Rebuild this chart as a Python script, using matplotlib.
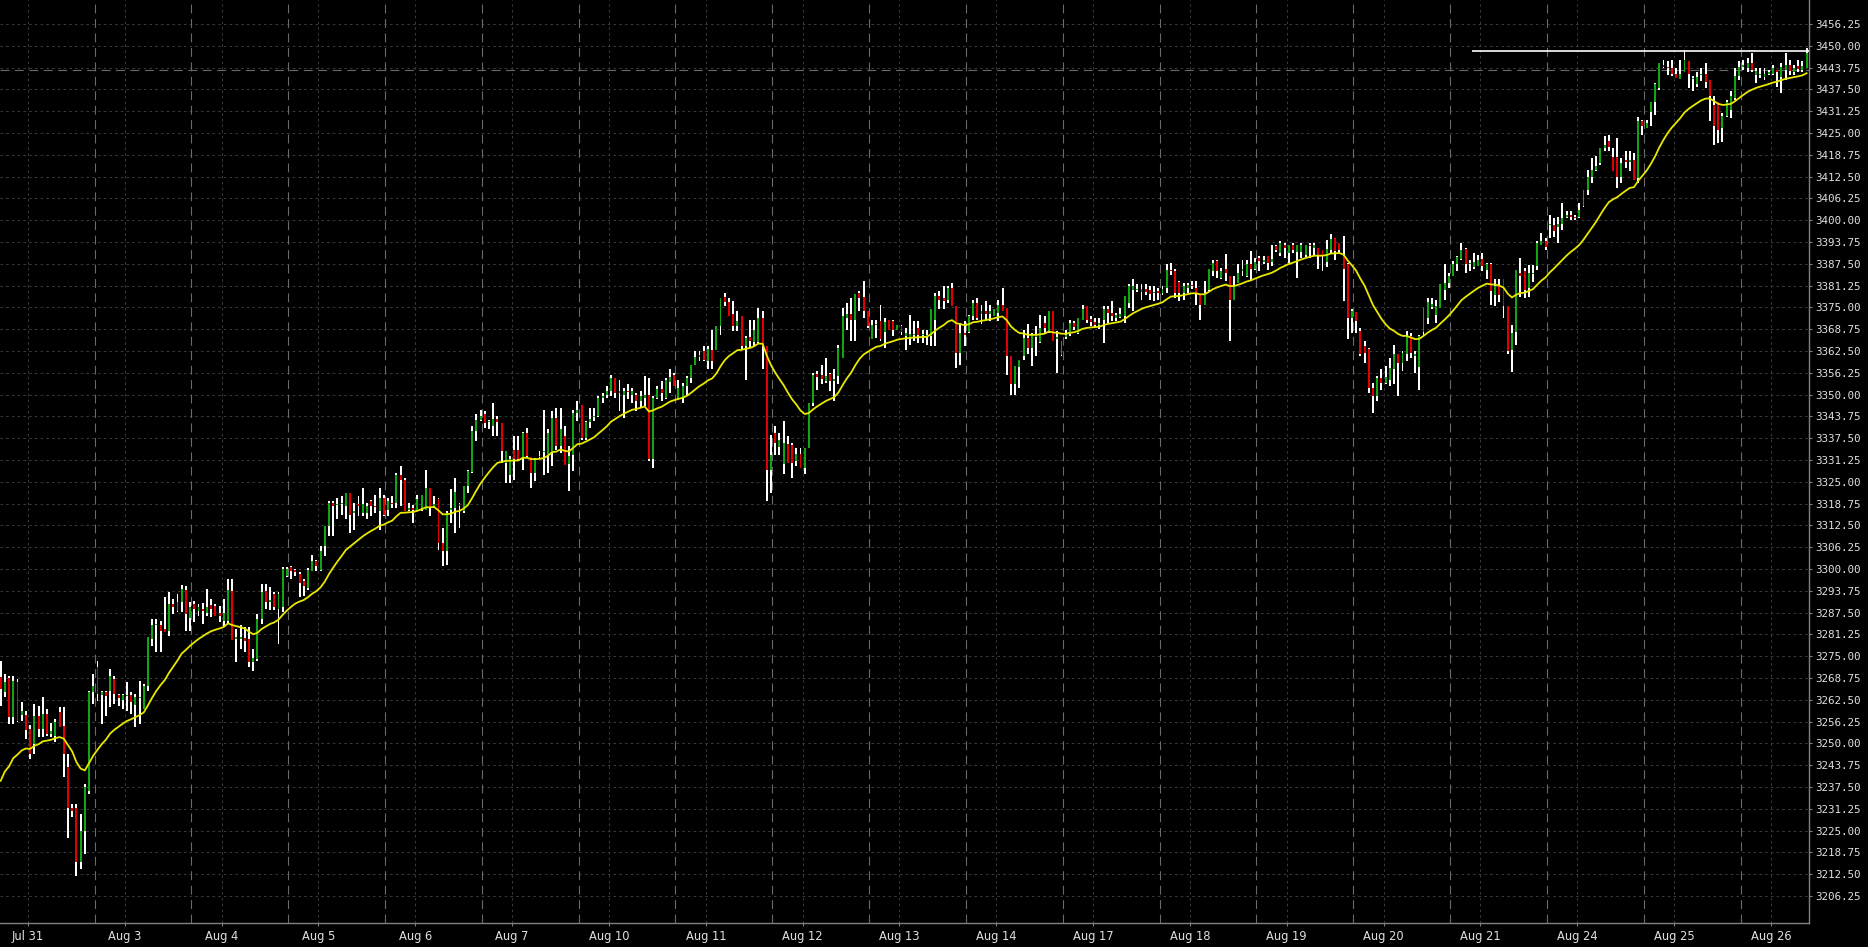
import matplotlib
matplotlib.use("Agg")
import matplotlib.pyplot as plt
import numpy as np
import pandas as pd

# hourly bars, Jul 31 - Aug 26 (23 bars per session)
opens = [
    3269.0, 3264.6, 3268.7, 3257.5, 3267.5, 3258.0, 3258.0, 3254.1, 3249.8, 3257.9,
    3254.1, 3258.4, 3252.7, 3252.2, 3258.9, 3255.1, 3243.1, 3231.6, 3231.6, 3215.9,
    3225.0, 3236.4, 3264.6, 3272.0, 3263.8, 3264.6, 3265.1, 3268.4, 3264.0, 3262.5,
    3263.5, 3264.0, 3261.0, 3262.9, 3260.0, 3266.5, 3279.9, 3283.8, 3283.8, 3282.8,
    3282.3, 3290.0, 3288.0, 3290.4, 3294.0, 3286.0, 3290.0, 3288.0, 3288.5, 3287.5,
    3289.7, 3289.5, 3287.5, 3285.0, 3285.0, 3293.8, 3280.0, 3280.0, 3280.2, 3280.0,
    3273.2, 3274.2, 3285.7, 3293.8, 3290.4, 3292.8, 3288.5, 3289.0, 3298.0, 3300.5,
    3299.7, 3298.5, 3296.5, 3294.6, 3299.3, 3302.2, 3299.8, 3306.5, 3312.2, 3318.9,
    3318.3, 3318.5, 3318.0, 3321.8, 3316.0, 3318.5, 3316.0, 3316.0, 3319.5, 3318.2,
    3316.5, 3320.3, 3317.0, 3319.0, 3318.9, 3327.0, 3325.6, 3317.0, 3317.5, 3317.0,
    3317.5, 3317.0, 3323.2, 3318.0, 3320.0, 3307.5, 3305.1, 3317.0, 3317.5, 3318.0,
    3316.5, 3323.7, 3327.8, 3339.5, 3342.8, 3344.3, 3342.0, 3341.0, 3343.0, 3341.9,
    3330.5, 3327.0, 3334.0, 3334.2, 3331.8, 3339.0, 3332.0, 3327.5, 3332.0, 3333.5,
    3332.3, 3333.2, 3343.3, 3335.2, 3338.0, 3330.0, 3332.8, 3344.7, 3347.0, 3337.5,
    3342.0, 3343.5, 3343.9, 3349.0, 3350.0, 3350.9, 3354.8, 3350.5, 3350.0, 3351.0,
    3350.0, 3350.0, 3348.1, 3349.0, 3350.0, 3331.4, 3349.0, 3351.5, 3349.0, 3353.5,
    3355.5, 3349.0, 3349.0, 3352.4, 3354.8, 3358.6, 3360.9, 3362.4, 3359.5, 3362.8,
    3362.9, 3369.6, 3378.0, 3376.5, 3373.0, 3369.6, 3372.5, 3363.8, 3366.5, 3365.0,
    3365.0, 3372.0, 3363.9, 3328.5, 3339.0, 3335.0, 3330.0, 3335.7, 3335.5, 3331.0,
    3333.0, 3329.0, 3334.7, 3347.6, 3356.0, 3355.5, 3353.8, 3356.0, 3354.0, 3355.2,
    3360.5, 3372.0, 3373.0, 3371.5, 3379.0, 3378.0, 3373.9, 3366.0, 3370.0, 3371.0,
    3368.0, 3371.5, 3371.0, 3368.6, 3369.8, 3366.9, 3366.5, 3367.0, 3369.0, 3367.0,
    3366.5, 3366.7, 3371.5, 3378.2, 3377.7, 3377.0, 3380.6, 3375.3, 3362.0, 3367.7,
    3368.0, 3372.5, 3376.3, 3373.0, 3374.0, 3373.0, 3372.5, 3373.4, 3375.8, 3374.9,
    3361.0, 3352.9, 3358.0, 3361.0, 3366.2, 3363.5, 3366.5, 3365.0, 3370.5, 3368.1,
    3373.9, 3366.0, 3361.4, 3366.5, 3367.3, 3370.5, 3367.7, 3371.5, 3375.3, 3371.8,
    3370.8, 3370.0, 3371.5, 3374.4, 3373.4, 3372.0, 3372.3, 3372.5, 3376.3, 3380.0,
    3380.0, 3379.5, 3380.4, 3380.0, 3379.0, 3379.6, 3379.0, 3380.6, 3385.8, 3385.4,
    3382.3, 3379.0, 3380.5, 3381.4, 3380.5, 3378.7, 3375.8, 3380.0, 3385.4, 3388.3,
    3383.5, 3386.0, 3383.9, 3377.2, 3382.0, 3385.5, 3384.0, 3387.3, 3386.0, 3389.2,
    3388.0, 3389.7, 3388.0, 3392.5, 3390.5, 3392.9, 3390.5, 3393.0, 3391.0, 3391.0,
    3390.0, 3393.0, 3392.0, 3392.0, 3391.5, 3388.0, 3391.5, 3394.9, 3393.5, 3389.7,
    3387.3, 3372.0, 3373.8, 3368.2, 3364.0, 3363.0, 3351.9, 3349.5, 3354.8, 3353.3,
    3354.3, 3357.2, 3361.5, 3359.2, 3361.5, 3366.7, 3361.0, 3358.0, 3368.0, 3372.0,
    3375.0, 3372.8, 3374.9, 3380.0, 3382.0, 3384.0, 3387.5, 3389.0, 3391.6, 3387.3,
    3386.5, 3387.0, 3389.0, 3385.8, 3387.3, 3378.5, 3381.0, 3383.0, 3375.3, 3362.8,
    3368.0, 3385.0, 3385.3, 3380.5, 3384.5, 3387.0, 3393.0, 3394.0, 3398.5, 3398.5,
    3398.0, 3399.0, 3401.0, 3401.5, 3401.0, 3401.0, 3404.0, 3408.7, 3412.5, 3414.5,
    3416.4, 3420.6, 3422.8, 3418.0, 3418.2, 3412.5, 3417.2, 3416.8, 3417.3, 3412.0,
    3428.3, 3426.5, 3431.0, 3434.0, 3438.0, 3444.5, 3444.0, 3443.5, 3442.0, 3440.5,
    3442.6, 3445.5, 3440.5, 3439.0, 3441.5, 3442.0, 3440.2, 3433.0, 3434.0, 3426.5,
    3430.0, 3431.5, 3435.0, 3441.2, 3444.0, 3443.5, 3445.0, 3441.5, 3441.5, 3441.0,
    3442.0, 3442.0, 3443.0, 3441.0, 3443.0, 3444.5, 3442.6, 3444.3, 3443.0, 3443.6,
]
highs = [
    3273.7, 3269.9, 3269.4, 3269.4, 3268.4, 3261.8, 3259.4, 3255.3, 3261.3, 3260.8,
    3263.4, 3259.9, 3255.8, 3257.0, 3260.3, 3260.3, 3247.0, 3232.6, 3232.6, 3229.7,
    3238.3, 3265.1, 3269.9, 3273.7, 3265.1, 3265.1, 3271.3, 3269.4, 3264.2, 3264.2,
    3267.5, 3264.6, 3264.2, 3268.0, 3267.0, 3280.4, 3285.7, 3285.7, 3285.2, 3291.9,
    3293.3, 3291.4, 3292.8, 3295.5, 3295.2, 3290.4, 3290.9, 3290.0, 3290.2, 3294.3,
    3291.4, 3290.0, 3289.5, 3291.4, 3297.1, 3297.1, 3282.8, 3283.8, 3283.3, 3283.3,
    3277.1, 3287.1, 3295.7, 3295.7, 3294.7, 3293.3, 3293.3, 3300.5, 3300.7, 3301.0,
    3300.0, 3299.0, 3297.1, 3300.3, 3304.1, 3302.7, 3306.5, 3312.2, 3319.4, 3319.4,
    3320.4, 3321.0, 3321.8, 3321.8, 3318.9, 3321.0, 3323.2, 3318.9, 3319.9, 3321.3,
    3323.2, 3321.3, 3320.4, 3321.0, 3327.5, 3329.4, 3326.1, 3318.9, 3318.4, 3321.3,
    3321.3, 3328.4, 3323.2, 3320.8, 3320.4, 3311.8, 3316.5, 3322.8, 3326.1, 3318.9,
    3323.7, 3328.5, 3340.9, 3344.3, 3345.7, 3345.2, 3342.8, 3347.6, 3344.0, 3341.9,
    3333.7, 3332.3, 3338.0, 3338.0, 3339.2, 3340.4, 3332.0, 3331.8, 3333.7, 3345.7,
    3340.0, 3345.2, 3346.2, 3346.2, 3340.9, 3335.2, 3345.7, 3348.1, 3347.1, 3342.4,
    3346.2, 3346.2, 3349.5, 3350.5, 3352.4, 3355.7, 3354.8, 3354.3, 3351.9, 3352.9,
    3351.9, 3350.5, 3350.9, 3355.4, 3354.8, 3349.5, 3352.6, 3353.8, 3354.8, 3357.4,
    3356.2, 3354.3, 3353.3, 3355.2, 3358.6, 3362.4, 3362.4, 3363.9, 3363.9, 3368.6,
    3369.6, 3377.7, 3379.1, 3377.7, 3376.8, 3373.9, 3372.5, 3366.7, 3371.5, 3371.5,
    3374.8, 3373.9, 3363.9, 3338.5, 3340.9, 3339.0, 3342.4, 3338.0, 3336.1, 3334.7,
    3334.7, 3334.7, 3347.6, 3356.2, 3356.7, 3358.6, 3360.5, 3356.2, 3357.2, 3364.3,
    3374.8, 3376.3, 3377.7, 3378.7, 3379.6, 3382.5, 3373.9, 3371.5, 3371.5, 3375.8,
    3372.0, 3371.5, 3371.5, 3370.0, 3370.0, 3369.1, 3372.9, 3371.0, 3371.0, 3368.6,
    3368.6, 3374.4, 3379.2, 3379.6, 3381.1, 3381.1, 3382.0, 3375.3, 3370.6, 3371.0,
    3372.9, 3377.2, 3377.7, 3375.8, 3376.8, 3375.8, 3374.4, 3377.2, 3380.6, 3374.9,
    3361.0, 3358.1, 3360.0, 3368.6, 3370.1, 3367.7, 3369.6, 3372.9, 3372.5, 3373.9,
    3373.9, 3368.2, 3365.3, 3368.6, 3371.5, 3371.0, 3372.0, 3375.8, 3375.3, 3372.5,
    3371.9, 3372.0, 3375.3, 3375.3, 3376.8, 3373.4, 3374.8, 3378.2, 3381.6, 3383.0,
    3381.6, 3381.6, 3381.6, 3381.1, 3381.1, 3380.6, 3381.1, 3387.3, 3387.8, 3385.9,
    3382.5, 3382.0, 3382.0, 3382.5, 3382.5, 3378.7, 3382.5, 3385.9, 3388.7, 3388.7,
    3386.3, 3390.2, 3383.9, 3383.9, 3387.3, 3388.7, 3388.7, 3391.1, 3389.2, 3389.7,
    3389.7, 3389.7, 3393.0, 3392.9, 3394.0, 3393.5, 3393.0, 3393.5, 3393.0, 3393.5,
    3393.0, 3393.5, 3393.5, 3392.0, 3391.5, 3394.4, 3395.9, 3394.9, 3393.5, 3395.4,
    3387.8, 3374.4, 3373.8, 3369.1, 3365.3, 3363.4, 3353.3, 3355.3, 3357.2, 3358.1,
    3360.5, 3364.3, 3361.5, 3362.4, 3368.2, 3367.7, 3362.4, 3367.2, 3374.9, 3377.7,
    3377.7, 3377.2, 3381.6, 3387.3, 3385.0, 3388.2, 3389.7, 3393.5, 3392.1, 3388.7,
    3390.6, 3390.0, 3390.6, 3387.8, 3387.8, 3383.0, 3383.0, 3383.0, 3375.3, 3370.0,
    3385.8, 3389.1, 3386.2, 3387.2, 3387.2, 3393.9, 3396.3, 3394.8, 3401.5, 3400.5,
    3401.0, 3404.9, 3402.5, 3402.5, 3401.5, 3404.9, 3408.7, 3414.4, 3417.8, 3418.3,
    3420.6, 3424.0, 3424.5, 3420.6, 3423.5, 3417.8, 3419.7, 3419.7, 3419.2, 3429.7,
    3428.8, 3428.8, 3434.0, 3439.3, 3445.0, 3446.0, 3445.5, 3446.0, 3443.6, 3446.0,
    3448.9, 3445.5, 3441.2, 3442.6, 3443.6, 3445.0, 3440.2, 3435.5, 3434.0, 3430.7,
    3434.5, 3436.9, 3443.6, 3445.5, 3446.0, 3446.5, 3447.9, 3443.6, 3443.6, 3443.6,
    3443.1, 3444.6, 3443.1, 3445.0, 3447.9, 3445.9, 3444.6, 3446.0, 3445.5, 3449.3,
]
lows = [
    3260.8, 3263.2, 3255.5, 3255.5, 3256.0, 3256.3, 3251.3, 3245.5, 3247.0, 3251.7,
    3251.7, 3252.2, 3251.7, 3250.3, 3254.6, 3240.3, 3223.0, 3228.8, 3212.0, 3214.0,
    3218.3, 3235.5, 3261.3, 3262.2, 3255.5, 3257.9, 3260.3, 3261.3, 3260.8, 3259.9,
    3259.4, 3258.4, 3254.6, 3255.5, 3259.9, 3265.1, 3278.0, 3276.1, 3276.1, 3281.8,
    3280.9, 3287.1, 3287.6, 3287.6, 3282.3, 3282.3, 3284.7, 3286.6, 3284.2, 3286.6,
    3286.1, 3286.6, 3284.7, 3283.3, 3284.5, 3279.5, 3273.2, 3277.1, 3276.1, 3271.8,
    3270.7, 3273.7, 3284.2, 3288.5, 3288.1, 3288.1, 3278.5, 3287.6, 3297.6, 3297.1,
    3298.0, 3291.9, 3292.2, 3294.1, 3299.3, 3299.3, 3299.3, 3303.6, 3309.4, 3309.4,
    3314.2, 3315.6, 3314.2, 3310.3, 3311.3, 3315.1, 3315.1, 3314.2, 3315.1, 3316.1,
    3311.3, 3315.1, 3315.1, 3317.5, 3317.5, 3318.0, 3316.5, 3316.5, 3313.2, 3316.5,
    3316.5, 3317.0, 3315.1, 3317.5, 3305.5, 3300.8, 3301.2, 3313.2, 3310.3, 3311.8,
    3316.1, 3321.8, 3327.5, 3336.6, 3342.4, 3340.4, 3340.0, 3338.0, 3338.0, 3330.4,
    3324.7, 3324.7, 3325.6, 3330.9, 3328.5, 3331.8, 3323.2, 3325.1, 3331.4, 3327.0,
    3327.5, 3329.4, 3334.2, 3333.3, 3329.9, 3322.3, 3328.0, 3342.4, 3337.1, 3337.1,
    3340.4, 3342.4, 3343.5, 3347.6, 3349.0, 3349.5, 3349.0, 3345.2, 3343.3, 3348.6,
    3347.6, 3345.2, 3346.2, 3346.7, 3330.9, 3328.9, 3348.6, 3348.1, 3348.6, 3350.5,
    3352.4, 3348.6, 3347.6, 3349.5, 3353.3, 3358.6, 3359.5, 3359.5, 3357.2, 3357.2,
    3362.9, 3367.2, 3375.3, 3372.5, 3368.1, 3368.1, 3362.9, 3354.3, 3363.4, 3363.9,
    3364.8, 3357.2, 3319.4, 3321.7, 3332.8, 3332.8, 3327.1, 3330.4, 3326.1, 3329.4,
    3329.0, 3327.1, 3334.7, 3346.6, 3351.4, 3352.9, 3353.3, 3350.9, 3348.1, 3352.9,
    3360.5, 3368.6, 3365.3, 3365.3, 3373.9, 3372.0, 3369.1, 3365.8, 3366.2, 3365.3,
    3363.4, 3368.6, 3366.7, 3368.6, 3367.2, 3362.9, 3364.3, 3365.3, 3364.8, 3364.8,
    3364.3, 3363.9, 3363.9, 3374.4, 3374.4, 3376.3, 3375.3, 3357.6, 3358.6, 3363.9,
    3367.7, 3371.5, 3371.5, 3370.1, 3371.5, 3371.0, 3372.5, 3371.0, 3373.9, 3355.7,
    3350.0, 3350.0, 3351.9, 3360.0, 3361.5, 3358.1, 3361.0, 3364.8, 3367.7, 3367.7,
    3365.3, 3356.2, 3361.0, 3365.8, 3366.7, 3368.6, 3367.3, 3371.5, 3370.6, 3369.6,
    3369.1, 3368.7, 3364.8, 3370.6, 3371.0, 3371.0, 3372.0, 3370.6, 3374.9, 3373.9,
    3379.5, 3377.2, 3378.5, 3377.2, 3376.8, 3377.2, 3378.5, 3379.2, 3384.4, 3377.7,
    3376.8, 3377.2, 3379.2, 3380.4, 3375.8, 3371.5, 3375.8, 3379.6, 3383.9, 3383.5,
    3383.0, 3382.5, 3365.3, 3377.2, 3382.0, 3383.9, 3383.6, 3382.5, 3385.8, 3385.4,
    3387.3, 3385.8, 3386.8, 3390.9, 3389.7, 3389.2, 3387.8, 3390.6, 3383.5, 3389.2,
    3389.5, 3389.2, 3389.7, 3385.9, 3385.4, 3386.5, 3390.2, 3388.7, 3390.2, 3376.8,
    3365.8, 3367.7, 3367.7, 3361.0, 3359.1, 3350.5, 3344.7, 3348.1, 3351.4, 3352.9,
    3352.4, 3352.9, 3349.5, 3356.7, 3359.6, 3360.5, 3356.2, 3351.4, 3366.7, 3370.1,
    3374.4, 3370.6, 3374.9, 3377.2, 3380.5, 3384.0, 3385.4, 3388.7, 3384.9, 3385.4,
    3386.0, 3387.0, 3385.5, 3383.0, 3375.8, 3375.3, 3376.5, 3372.0, 3361.5, 3356.6,
    3364.2, 3378.1, 3377.6, 3378.1, 3382.4, 3385.8, 3392.9, 3391.5, 3394.8, 3395.3,
    3393.4, 3397.2, 3400.5, 3400.1, 3400.0, 3400.7, 3403.9, 3407.3, 3410.6, 3414.0,
    3415.9, 3419.7, 3419.7, 3414.0, 3409.2, 3410.6, 3414.9, 3414.0, 3411.6, 3410.6,
    3424.5, 3426.4, 3426.9, 3430.2, 3437.4, 3443.6, 3441.5, 3441.2, 3440.7, 3440.5,
    3442.6, 3437.9, 3436.9, 3438.3, 3439.8, 3437.8, 3428.3, 3421.6, 3422.1, 3422.5,
    3429.5, 3429.3, 3434.5, 3440.2, 3443.1, 3442.5, 3442.6, 3439.3, 3440.7, 3440.2,
    3441.6, 3441.6, 3438.3, 3436.4, 3440.2, 3441.6, 3441.6, 3442.6, 3442.6, 3443.6,
]
closes = [
    3265.5, 3267.5, 3257.5, 3268.0, 3256.5, 3259.4, 3253.8, 3247.0, 3257.9, 3254.1,
    3258.4, 3252.7, 3253.5, 3256.0, 3254.6, 3247.0, 3231.6, 3230.5, 3215.9, 3225.0,
    3237.4, 3264.6, 3266.5, 3264.2, 3264.6, 3263.7, 3269.4, 3264.2, 3263.0, 3264.0,
    3263.8, 3261.8, 3263.3, 3263.4, 3266.5, 3280.4, 3283.8, 3283.9, 3282.3, 3281.8,
    3290.0, 3289.0, 3290.4, 3294.3, 3287.1, 3289.0, 3288.5, 3289.0, 3288.0, 3289.0,
    3288.5, 3286.6, 3286.5, 3287.5, 3294.0, 3279.5, 3280.4, 3280.5, 3279.4, 3273.2,
    3274.4, 3285.7, 3293.3, 3290.4, 3291.0, 3289.0, 3292.8, 3300.0, 3300.0, 3299.3,
    3299.0, 3296.0, 3295.2, 3299.8, 3302.2, 3300.8, 3305.1, 3312.2, 3318.9, 3318.2,
    3318.6, 3318.8, 3321.8, 3315.6, 3316.5, 3318.0, 3318.5, 3318.0, 3318.0, 3317.8,
    3320.3, 3315.6, 3319.5, 3318.5, 3327.0, 3325.6, 3316.5, 3317.5, 3317.0, 3320.0,
    3321.3, 3323.2, 3317.5, 3318.5, 3307.5, 3305.1, 3316.0, 3317.5, 3322.0, 3318.5,
    3323.7, 3328.0, 3339.5, 3342.8, 3344.0, 3341.9, 3342.5, 3343.0, 3342.0, 3333.7,
    3333.7, 3331.5, 3331.4, 3331.4, 3339.0, 3332.3, 3327.5, 3331.4, 3332.5, 3333.8,
    3338.9, 3343.3, 3335.2, 3340.0, 3329.9, 3332.3, 3344.7, 3345.5, 3337.5, 3342.0,
    3343.0, 3344.0, 3349.0, 3349.5, 3351.0, 3354.8, 3350.5, 3351.0, 3351.0, 3350.8,
    3351.0, 3348.1, 3349.5, 3350.0, 3331.4, 3349.0, 3351.5, 3350.6, 3354.3, 3355.0,
    3352.4, 3352.0, 3352.4, 3354.8, 3358.6, 3360.9, 3361.3, 3360.0, 3363.0, 3359.6,
    3369.6, 3377.7, 3376.5, 3372.5, 3369.6, 3371.0, 3363.8, 3366.2, 3365.3, 3368.6,
    3372.0, 3363.9, 3328.5, 3332.8, 3336.0, 3337.0, 3336.0, 3330.4, 3330.5, 3333.0,
    3329.0, 3334.7, 3347.6, 3355.7, 3355.0, 3354.5, 3355.4, 3353.8, 3354.5, 3363.4,
    3372.5, 3373.0, 3371.5, 3378.7, 3377.7, 3373.9, 3369.6, 3370.0, 3370.3, 3366.0,
    3370.7, 3368.6, 3368.6, 3370.0, 3368.0, 3367.7, 3367.5, 3367.5, 3367.0, 3367.3,
    3367.0, 3374.4, 3378.2, 3377.2, 3376.8, 3380.6, 3375.3, 3362.0, 3367.7, 3367.2,
    3372.5, 3376.3, 3372.0, 3374.0, 3373.0, 3374.0, 3374.4, 3375.8, 3373.9, 3361.0,
    3352.9, 3358.1, 3360.0, 3366.2, 3363.4, 3367.2, 3367.0, 3369.1, 3369.0, 3373.9,
    3365.3, 3366.5, 3365.3, 3367.0, 3370.5, 3369.5, 3372.0, 3374.4, 3371.5, 3370.8,
    3370.0, 3370.5, 3374.4, 3373.4, 3372.5, 3372.8, 3373.0, 3378.2, 3381.0, 3381.0,
    3380.0, 3380.4, 3379.4, 3378.7, 3379.2, 3379.0, 3380.4, 3385.8, 3385.4, 3379.2,
    3379.0, 3381.0, 3381.5, 3381.0, 3379.0, 3375.8, 3379.2, 3385.9, 3387.8, 3385.4,
    3385.4, 3384.8, 3377.2, 3381.1, 3385.0, 3386.0, 3387.3, 3385.9, 3388.1, 3388.2,
    3388.5, 3387.8, 3389.0, 3391.5, 3393.5, 3391.9, 3392.9, 3391.5, 3392.9, 3393.0,
    3393.0, 3392.5, 3393.0, 3390.0, 3389.8, 3391.8, 3394.5, 3391.1, 3391.5, 3385.9,
    3372.0, 3374.0, 3371.0, 3361.5, 3362.0, 3351.9, 3349.5, 3354.8, 3353.3, 3355.0,
    3357.6, 3361.5, 3359.0, 3361.9, 3366.7, 3362.0, 3361.5, 3366.7, 3374.9, 3376.5,
    3376.0, 3375.3, 3381.6, 3382.0, 3384.0, 3387.3, 3389.4, 3391.5, 3387.3, 3387.5,
    3388.0, 3388.5, 3387.0, 3387.3, 3379.6, 3381.0, 3378.5, 3375.3, 3362.4, 3367.6,
    3385.8, 3384.0, 3380.0, 3384.8, 3385.0, 3393.4, 3394.0, 3392.4, 3398.6, 3397.0,
    3399.0, 3400.5, 3401.5, 3401.0, 3400.5, 3403.0, 3408.7, 3412.5, 3414.5, 3415.5,
    3420.6, 3421.5, 3421.0, 3414.0, 3412.5, 3416.5, 3416.8, 3417.2, 3411.6, 3428.3,
    3427.0, 3428.0, 3434.0, 3439.0, 3445.0, 3444.0, 3443.5, 3441.8, 3440.9, 3442.0,
    3446.0, 3442.0, 3440.8, 3441.0, 3442.0, 3439.5, 3435.5, 3426.9, 3425.9, 3430.0,
    3434.0, 3435.5, 3441.2, 3444.0, 3444.5, 3445.0, 3443.1, 3442.8, 3442.0, 3442.0,
    3442.5, 3443.5, 3442.5, 3443.8, 3444.5, 3442.8, 3443.5, 3443.3, 3444.3, 3447.9,
]
day_labels = ["Jul 31", "Aug 3", "Aug 4", "Aug 5", "Aug 6", "Aug 7", "Aug 10",
              "Aug 11", "Aug 12", "Aug 13", "Aug 14", "Aug 17", "Aug 18",
              "Aug 19", "Aug 20", "Aug 21", "Aug 24", "Aug 25", "Aug 26"]
ema_left = 3236.5        # moving average level at the left edge
high_level = 3448.5      # white level line
high_level_from = 349.5  # bar where the level line starts
last_line = 3443.1       # dashed price line

bars_per_day = 23

o = np.array(opens)
h = np.array(highs)
l = np.array(lows)
c = np.array(closes)
h = np.maximum(h, np.maximum(o, c))
l = np.minimum(l, np.minimum(o, c))
x = np.arange(len(c))

ema = pd.Series([ema_left] + closes).ewm(span=20, adjust=False).mean().iloc[1:].to_numpy()

fig = plt.figure(figsize=(18.68, 9.47), dpi=100, facecolor="black")
ax = fig.add_axes([0, 23.7 / 947, 1808.7 / 1868, 923.3 / 947], facecolor="black")

yticks = np.arange(3206.25, 3456.3, 6.25)
tick_pos = 6.5 + bars_per_day * np.arange(len(day_labels))
day_starts = 22.3 + bars_per_day * np.arange(len(day_labels) - 1)

# grid
for y in yticks:
    ax.axhline(y, color="#383838", lw=0.75, ls=(0, (2.5, 3)), zorder=1)
for t in tick_pos:
    ax.axvline(t, color="#383838", lw=0.75, ls=(0, (2.5, 3)), zorder=1)
for d in day_starts:
    ax.axvline(d, color="#6a6a6a", lw=0.8, ls=(0, (8, 5)), zorder=1)
ax.axhline(last_line, color="#6a6a6a", lw=0.8, ls=(0, (8, 5)), zorder=1)

# candles
w = 0.46
ax.bar(x, h - l, bottom=l, width=w, color="white", linewidth=0,
       antialiased=False, zorder=3)
body_bottom = np.minimum(o, c)
body_height = np.maximum(np.abs(c - o), 0.35)
body_colors = np.where(c >= o, "#12a512", "#e00000")
ax.bar(x, body_height, bottom=body_bottom, width=w, color=body_colors,
       linewidth=0, antialiased=False, zorder=4)

ax.plot(x, ema, color="#e8e800", lw=1.3, zorder=5)
ax.hlines(high_level, high_level_from, len(c) + 0.5, color="white", lw=1.2, zorder=6)

ax.set_xlim(-0.16, 429.5)
ax.set_ylim(3198.42, 3463.13)

ax.yaxis.tick_right()
ax.set_yticks(yticks)
ax.set_yticklabels([f"{v:.2f}" for v in yticks], family="DejaVu Sans Mono")
ax.set_xticks(tick_pos)
ax.set_xticklabels(day_labels)
ax.tick_params(axis="y", colors="#808080", labelcolor="#e0e0e0", length=2.2,
               width=0.8, pad=2.6, labelsize=7.8)
ax.tick_params(axis="x", colors="#808080", labelcolor="#e0e0e0", length=2,
               width=0.8, pad=3, labelsize=8.3)

for side in ["top", "left"]:
    ax.spines[side].set_visible(False)
for side in ["right", "bottom"]:
    ax.spines[side].set_color("#808080")
    ax.spines[side].set_linewidth(1.0)

fig.savefig("out.png", dpi=100, facecolor="black")
plt.close(fig)
